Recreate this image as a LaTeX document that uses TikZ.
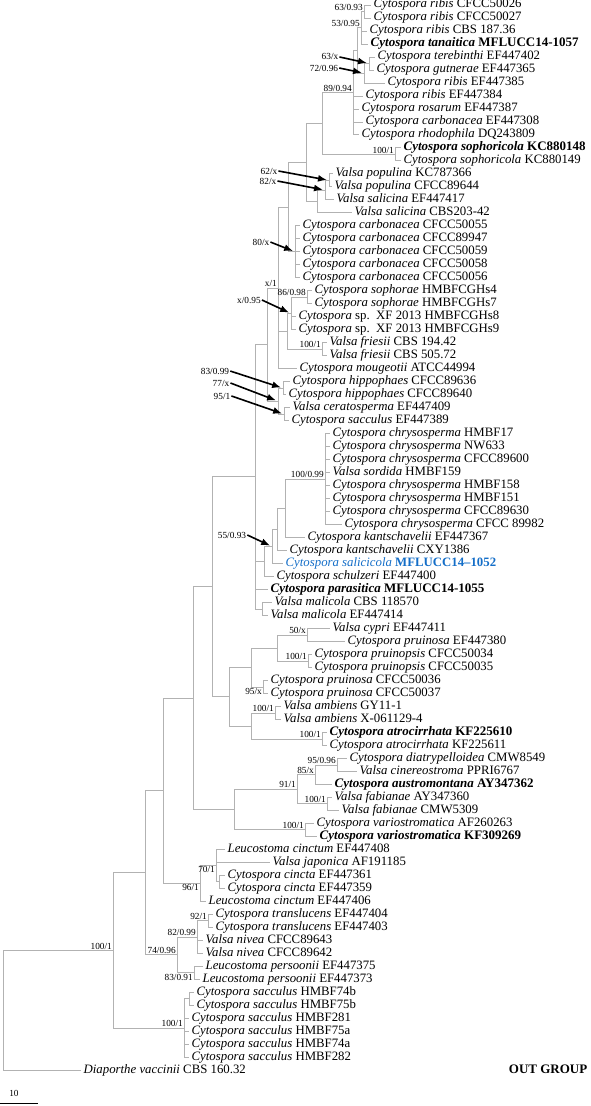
\documentclass[tikz,border=0pt]{standalone}
\usepackage{fontspec}
\setmainfont{Liberation Serif}
\usetikzlibrary{arrows.meta,positioning}
\definecolor{salblue}{RGB}{20,110,200}

\begin{document}
\begin{tikzpicture}[x=1pt, y=-12.99pt,
  taxon/.style={anchor=west, inner sep=2.5pt, font=\fontsize{12.8}{13}\selectfont,
                text height=8.4pt, text depth=2.6pt},
  newtaxon/.style={taxon, font=\fontsize{13}{13}\selectfont\bfseries},
  supp/.style={font=\fontsize{9.3}{10}\selectfont, inner sep=1pt},
  branch/.style={draw=black!30, line width=0.8pt},
  pointer/.style={-{Latex[length=9pt,width=7pt]}, line width=1.6pt, shorten >=2pt}]
  \useasboundingbox (0,0.615) rectangle (591,85.76);

  % taxa, one row each
  \node[taxon] (t1) at (371,1) {\textit{Cytospora ribis} CFCC50026};
  \node[taxon] (t2) at (371,2) {\textit{Cytospora ribis} CFCC50027};
  \node[taxon] (t3) at (367,3) {\textit{Cytospora ribis} CBS 187.36};
  \node[newtaxon] (t4) at (368,4) {\textit{Cytospora tanaitica} MFLUCC14-1057};
  \node[taxon] (t5) at (375,5) {\textit{Cytospora terebinthi} EF447402};
  \node[taxon] (t6) at (374,6) {\textit{Cytospora gutnerae} EF447365};
  \node[taxon] (t7) at (385,7) {\textit{Cytospora ribis} EF447385};
  \node[taxon] (t8) at (363,8) {\textit{Cytospora ribis} EF447384};
  \node[taxon] (t9) at (359,9) {\textit{Cytospora rosarum} EF447387};
  \node[taxon] (t10) at (363,10) {\textit{Cytospora carbonacea} EF447308};
  \node[taxon] (t11) at (359,11) {\textit{Cytospora rhodophila} DQ243809};
  \node[newtaxon] (t12) at (401,12) {\textit{Cytospora sophoricola} KC880148};
  \node[taxon] (t13) at (401,13) {\textit{Cytospora sophoricola} KC880149};
  \node[taxon] (t14) at (333,14) {\textit{Valsa populina} KC787366};
  \node[taxon] (t15) at (332,15) {\textit{Valsa populina} CFCC89644};
  \node[taxon] (t16) at (334,16) {\textit{Valsa salicina} EF447417};
  \node[taxon] (t17) at (352,17) {\textit{Valsa salicina} CBS203-42};
  \node[taxon] (t18) at (300,18) {\textit{Cytospora carbonacea} CFCC50055};
  \node[taxon] (t19) at (300,19) {\textit{Cytospora carbonacea} CFCC89947};
  \node[taxon] (t20) at (300,20) {\textit{Cytospora carbonacea} CFCC50059};
  \node[taxon] (t21) at (300,21) {\textit{Cytospora carbonacea} CFCC50058};
  \node[taxon] (t22) at (300,22) {\textit{Cytospora carbonacea} CFCC50056};
  \node[taxon] (t23) at (312,23) {\textit{Cytospora sophorae} HMBFCGHs4};
  \node[taxon] (t24) at (312,24) {\textit{Cytospora sophorae} HMBFCGHs7};
  \node[taxon] (t25) at (296,25) {\textit{Cytospora} sp.\ \ XF 2013 HMBFCGHs8};
  \node[taxon] (t26) at (296,26) {\textit{Cytospora} sp.\ \ XF 2013 HMBFCGHs9};
  \node[taxon] (t27) at (327,27) {\textit{Valsa friesii} CBS 194.42};
  \node[taxon] (t28) at (327,28) {\textit{Valsa friesii} CBS 505.72};
  \node[taxon] (t29) at (297,29) {\textit{Cytospora mougeotii} ATCC44994};
  \node[taxon] (t30) at (290,30) {\textit{Cytospora hippophaes} CFCC89636};
  \node[taxon] (t31) at (286,31) {\textit{Cytospora hippophaes} CFCC89640};
  \node[taxon] (t32) at (290,32) {\textit{Valsa ceratosperma} EF447409};
  \node[taxon] (t33) at (289,33) {\textit{Cytospora sacculus} EF447389};
  \node[taxon] (t34) at (330,34) {\textit{Cytospora chrysosperma} HMBF17};
  \node[taxon] (t35) at (330,35) {\textit{Cytospora chrysosperma} NW633};
  \node[taxon] (t36) at (330,36) {\textit{Cytospora chrysosperma} CFCC89600};
  \node[taxon] (t37) at (330,37) {\textit{Valsa sordida} HMBF159};
  \node[taxon] (t38) at (330,38) {\textit{Cytospora chrysosperma} HMBF158};
  \node[taxon] (t39) at (330,39) {\textit{Cytospora chrysosperma} HMBF151};
  \node[taxon] (t40) at (330,40) {\textit{Cytospora chrysosperma} CFCC89630};
  \node[taxon] (t41) at (342,41) {\textit{Cytospora chrysosperma} CFCC 89982};
  \node[taxon] (t42) at (305,42) {\textit{Cytospora kantschavelii} EF447367};
  \node[taxon] (t43) at (287,43) {\textit{Cytospora kantschavelii} CXY1386};
  \node[taxon, text=salblue] (t44) at (283,44) {\textit{Cytospora salicicola} \textbf{MFLUCC14--1052}};
  \node[taxon] (t45) at (274,45) {\textit{Cytospora schulzeri} EF447400};
  \node[newtaxon] (t46) at (268,46) {\textit{Cytospora parasitica} MFLUCC14-1055};
  \node[taxon] (t47) at (272,47) {\textit{Valsa malicola} CBS 118570};
  \node[taxon] (t48) at (268,48) {\textit{Valsa malicola} EF447414};
  \node[taxon] (t49) at (330,49) {\textit{Valsa cypri} EF447411};
  \node[taxon] (t50) at (345,50) {\textit{Cytospora pruinosa} EF447380};
  \node[taxon] (t51) at (312,51) {\textit{Cytospora pruinopsis} CFCC50034};
  \node[taxon] (t52) at (312,52) {\textit{Cytospora pruinopsis} CFCC50035};
  \node[taxon] (t53) at (268,53) {\textit{Cytospora pruinosa} CFCC50036};
  \node[taxon] (t54) at (268,54) {\textit{Cytospora pruinosa} CFCC50037};
  \node[taxon] (t55) at (281,55) {\textit{Valsa ambiens} GY11-1};
  \node[taxon] (t56) at (281,56) {\textit{Valsa ambiens} X-061129-4};
  \node[newtaxon] (t57) at (327,57) {\textit{Cytospora atrocirrhata} KF225610};
  \node[taxon] (t58) at (327,58) {\textit{Cytospora atrocirrhata} KF225611};
  \node[taxon] (t59) at (347,59) {\textit{Cytospora diatrypelloidea} CMW8549};
  \node[taxon] (t60) at (357,60) {\textit{Valsa cinereostroma} PPRI6767};
  \node[newtaxon] (t61) at (332,61) {\textit{Cytospora austromontana} AY347362};
  \node[taxon] (t62) at (332,62) {\textit{Valsa fabianae} AY347360};
  \node[taxon] (t63) at (339,63) {\textit{Valsa fabianae} CMW5309};
  \node[taxon] (t64) at (314,64) {\textit{Cytospora variostromatica} AF260263};
  \node[newtaxon] (t65) at (317,65) {\textit{Cytospora variostromatica} KF309269};
  \node[taxon] (t66) at (225,66) {\textit{Leucostoma cinctum} EF447408};
  \node[taxon] (t67) at (270,67) {\textit{Valsa japonica} AF191185};
  \node[taxon] (t68) at (225,68) {\textit{Cytospora cincta} EF447361};
  \node[taxon] (t69) at (225,69) {\textit{Cytospora cincta} EF447359};
  \node[taxon] (t70) at (206,70) {\textit{Leucostoma cinctum} EF447406};
  \node[taxon] (t71) at (213,71) {\textit{Cytospora translucens} EF447404};
  \node[taxon] (t72) at (213,72) {\textit{Cytospora translucens} EF447403};
  \node[taxon] (t73) at (203,73) {\textit{Valsa nivea} CFCC89643};
  \node[taxon] (t74) at (203,74) {\textit{Valsa nivea} CFCC89642};
  \node[taxon] (t75) at (203,75) {\textit{Leucostoma persoonii} EF447375};
  \node[taxon] (t76) at (200,76) {\textit{Leucostoma persoonii} EF447373};
  \node[taxon] (t77) at (194,77) {\textit{Cytospora sacculus} HMBF74b};
  \node[taxon] (t78) at (194,78) {\textit{Cytospora sacculus} HMBF75b};
  \node[taxon] (t79) at (189,79) {\textit{Cytospora sacculus} HMBF281};
  \node[taxon] (t80) at (189,80) {\textit{Cytospora sacculus} HMBF75a};
  \node[taxon] (t81) at (189,81) {\textit{Cytospora sacculus} HMBF74a};
  \node[taxon] (t82) at (189,82) {\textit{Cytospora sacculus} HMBF282};
  \node[taxon] (t83) at (81,83) {\textit{Diaporthe vaccinii} CBS 160.32};
  \node[newtaxon, anchor=east] (outg) at (590,83) {OUT GROUP};

  % internal nodes
  \coordinate (n63) at (364,1.5);   \coordinate (n53) at (361,2.75);
  \coordinate (n56) at (369,5.5);   \coordinate (n72) at (364,6.25);
  \coordinate (nA) at (357,4.5);    \coordinate (n89) at (353,7.75);
  \coordinate (nsph) at (395,12.5); \coordinate (nB) at (322,10.125);
  \coordinate (npop) at (329,14.5); \coordinate (n82x) at (325,15.25);
  \coordinate (nC) at (317,16.125); \coordinate (nD) at (306,13.125);
  \coordinate (ncarb) at (295,20);  \coordinate (nE) at (288,16.5625);
  \coordinate (nsoph) at (307,23.5); \coordinate (nx95) at (291,24.75);
  \coordinate (nfri) at (322,27.5); \coordinate (nF) at (287,26.125);
  \coordinate (nx1) at (278,22.78);
  \coordinate (n83) at (283,30.5);  \coordinate (n95) at (284,32.5);
  \coordinate (n77) at (278,31.5);  \coordinate (nG) at (267,27.14);
  \coordinate (nchr) at (325,37.5); \coordinate (nH) at (285,39.75);
  \coordinate (nI) at (277,41.375); \coordinate (n55) at (272,42.6875);
  \coordinate (nJ) at (264,43.84);  \coordinate (nmal) at (262,47.5);
  \coordinate (nK) at (255,37.32);
  \coordinate (ncyp) at (307,49.5); \coordinate (npsis) at (308,51.5);
  \coordinate (nL) at (277,50.5);   \coordinate (n95x) at (263,53.5);
  \coordinate (nM) at (251,52);     \coordinate (namb) at (275,55.5);
  \coordinate (natr) at (322,57.5); \coordinate (nN) at (251,56.5);
  \coordinate (nO) at (229,54.25);  \coordinate (nP) at (212,45.79);
  \coordinate (ndia) at (337,59.5); \coordinate (n85) at (315,60.25);
  \coordinate (nfab) at (327,62.5); \coordinate (n91) at (297,61.375);
  \coordinate (nvar) at (305,64.5); \coordinate (nQ) at (234,62.94);
  \coordinate (nR) at (193,54.36);
  \coordinate (n70) at (219,68.5);  \coordinate (nlc) at (216,67.25);
  \coordinate (n96) at (200,68.625); \coordinate (nS) at (163,61.49);
  \coordinate (ntra) at (208,71.5); \coordinate (n82) at (197,72.75);
  \coordinate (nper) at (194,75.5); \coordinate (n74) at (177,74.125);
  \coordinate (nT) at (145,67.81);
  \coordinate (nhb) at (189,77.5);  \coordinate (nsac) at (184,79.75);
  \coordinate (nU) at (113,73.78);  \coordinate (root) at (3,78.39);

  % branches
  \draw[branch] (n63) |- (t1.west) (n63) |- (t2.west);
  \draw[branch] (n53) |- (n63) (n53) |- (t3.west) (n53) |- (t4.west);
  \draw[branch] (n56) |- (t5.west) (n56) |- (t6.west);
  \draw[branch] (n72) |- (n56) (n72) |- (t7.west);
  \draw[branch] (nA) |- (n53) (nA) |- (n72);
  \draw[branch] (n89) |- (nA) (n89) |- (t8.west) (n89) |- (t9.west) (n89) |- (t10.west) (n89) |- (t11.west);
  \draw[branch] (nsph) |- (t12.west) (nsph) |- (t13.west);
  \draw[branch] (nB) |- (n89) (nB) |- (nsph);
  \draw[branch] (npop) |- (t14.west) (npop) |- (t15.west);
  \draw[branch] (n82x) |- (npop) (n82x) |- (t16.west);
  \draw[branch] (nC) |- (n82x) (nC) |- (t17.west);
  \draw[branch] (nD) |- (nB) (nD) |- (nC);
  \draw[branch] (ncarb) |- (t18.west) (ncarb) |- (t22.west);
  \draw[branch] (ncarb |- t19.west) -- (t19.west) (ncarb |- t20.west) -- (t20.west) (ncarb |- t21.west) -- (t21.west);
  \draw[branch] (nE) |- (nD) (nE) |- (ncarb);
  \draw[branch] (nsoph) |- (t23.west) (nsoph) |- (t24.west);
  \draw[branch] (nx95) |- (nsoph) (nx95) |- (t25.west) (nx95) |- (t26.west);
  \draw[branch] (nfri) |- (t27.west) (nfri) |- (t28.west);
  \draw[branch] (nF) |- (nx95) (nF) |- (nfri);
  \draw[branch] (nx1) |- (nE) (nx1) |- (nF) (nx1) |- (t29.west);
  \draw[branch] (n83) |- (t30.west) (n83) |- (t31.west);
  \draw[branch] (n95) |- (t32.west) (n95) |- (t33.west);
  \draw[branch] (n77) |- (n83) (n77) |- (n95);
  \draw[branch] (nG) |- (nx1) (nG) |- (n77);
  \draw[branch] (nchr) |- (t34.west) (nchr) |- (t41.west);
  \draw[branch] (nchr |- t35.west) -- (t35.west) (nchr |- t36.west) -- (t36.west) (nchr |- t37.west) -- (t37.west)
                (nchr |- t38.west) -- (t38.west) (nchr |- t39.west) -- (t39.west) (nchr |- t40.west) -- (t40.west);
  \draw[branch] (nH) |- (nchr) (nH) |- (t42.west);
  \draw[branch] (nI) |- (nH) (nI) |- (t43.west);
  \draw[branch] (n55) |- (nI) (n55) |- (t44.west);
  \draw[branch] (nJ) |- (n55) (nJ) |- (t45.west);
  \draw[branch] (nmal) |- (t47.west) (nmal) |- (t48.west);
  \draw[branch] (nK) |- (nG) (nK) |- (nJ) (nK) |- (t46.west) (nK) |- (nmal);
  \draw[branch] (ncyp) |- (t49.west) (ncyp) |- (t50.west);
  \draw[branch] (npsis) |- (t51.west) (npsis) |- (t52.west);
  \draw[branch] (nL) |- (ncyp) (nL) |- (npsis);
  \draw[branch] (n95x) |- (t53.west) (n95x) |- (t54.west);
  \draw[branch] (nM) |- (nL) (nM) |- (n95x);
  \draw[branch] (namb) |- (t55.west) (namb) |- (t56.west);
  \draw[branch] (natr) |- (t57.west) (natr) |- (t58.west);
  \draw[branch] (nN) |- (namb) (nN) |- (natr);
  \draw[branch] (nO) |- (nM) (nO) |- (nN);
  \draw[branch] (nP) |- (nK) (nP) |- (nO);
  \draw[branch] (ndia) |- (t59.west) (ndia) |- (t60.west);
  \draw[branch] (n85) |- (ndia) (n85) |- (t61.west);
  \draw[branch] (nfab) |- (t62.west) (nfab) |- (t63.west);
  \draw[branch] (n91) |- (n85) (n91) |- (nfab);
  \draw[branch] (nvar) |- (t64.west) (nvar) |- (t65.west);
  \draw[branch] (nQ) |- (n91) (nQ) |- (nvar);
  \draw[branch] (nR) |- (nP) (nR) |- (nQ);
  \draw[branch] (n70) |- (t68.west) (n70) |- (t69.west);
  \draw[branch] (nlc) |- (t66.west) (nlc) |- (t67.west) (nlc) |- (n70);
  \draw[branch] (n96) |- (nlc) (n96) |- (t70.west);
  \draw[branch] (nS) |- (nR) (nS) |- (n96);
  \draw[branch] (ntra) |- (t71.west) (ntra) |- (t72.west);
  \draw[branch] (n82) |- (ntra) (n82) |- (t73.west) (n82) |- (t74.west);
  \draw[branch] (nper) |- (t75.west) (nper) |- (t76.west);
  \draw[branch] (n74) |- (n82) (n74) |- (nper);
  \draw[branch] (nT) |- (nS) (nT) |- (n74);
  \draw[branch] (nhb) |- (t77.west) (nhb) |- (t78.west);
  \draw[branch] (nsac) |- (nhb) (nsac) |- (t82.west);
  \draw[branch] (nsac |- t79.west) -- (t79.west) (nsac |- t80.west) -- (t80.west) (nsac |- t81.west) -- (t81.west);
  \draw[branch] (nU) |- (nT) (nU) |- (nsac);
  \draw[branch] (root) |- (nU) (root) |- (t83.west);

  % support values
  \node[supp, above left=0pt of n63] (s63) {63/0.93};
  \node[supp, above left=0pt of n53] (s53) {53/0.95};
  \node[supp, above left=0pt of n89] (s89) {89/0.94};
  \node[supp, above left=0pt of nsph] (ssph) {100/1};
  \node[supp, above left=0pt of nsoph] (ssoph) {86/0.98};
  \node[supp, above left=0pt of nfri] (sfri) {100/1};
  \node[supp, above left=0pt of nx1] (sx1) {x/1};
  \node[supp, above left=0pt of nchr] (schr) {100/0.99};
  \node[supp, above left=0pt of ncyp] (scyp) {50/x};
  \node[supp, above left=0pt of npsis] (spsis) {100/1};
  \node[supp, below left=0pt of n95x] (s95x) {95/x};
  \node[supp, above left=0pt of namb] (samb) {100/1};
  \node[supp, above left=0pt of natr] (satr) {100/1};
  \node[supp, above left=0pt of ndia] (sdia) {95/0.96};
  \node[supp, above left=0pt of n85] (s85) {85/x};
  \node[supp, above left=0pt of n91] (s91) {91/1};
  \node[supp, above left=0pt of nfab] (sfab) {100/1};
  \node[supp, above left=0pt of nvar] (svar) {100/1};
  \node[supp, below left=0pt of nlc] (slc) {70/1};
  \node[supp, below left=0pt of n96] (s96) {96/1};
  \node[supp, above left=0pt of ntra] (stra) {92/1};
  \node[supp, above left=0pt of n82] (s82) {82/0.99};
  \node[supp, above left=0pt of n74] (s74) {74/0.96};
  \node[supp, below left=0pt of nper] (sper) {83/0.91};
  \node[supp, above left=0pt of nsac] (ssac) {100/1};
  \node[supp, above left=0pt of nU] (sU) {100/1};

  % arrowed support values
  \node[supp] (a63) at (330,5.0) {63/x};
  \node[supp] (a72) at (324,5.85) {72/0.96};
  \node[supp] (a62) at (269,13.78) {62/x};
  \node[supp] (a82) at (268,14.55) {82/x};
  \node[supp] (a80) at (261,19.25) {80/x};
  \node[supp] (ax95) at (249,23.71) {x/0.95};
  \node[supp] (a83) at (215,29.18) {83/0.99};
  \node[supp] (a77) at (221,30.1) {77/x};
  \node[supp] (a95) at (222,31.1) {95/1};
  \node[supp] (a55) at (232,41.8) {55/0.93};
  \draw[pointer] (a63.east) -- (n56);
  \draw[pointer] (a72.east) -- (n72);
  \draw[pointer] (a62.east) -- (npop);
  \draw[pointer] (a82.east) -- (n82x);
  \draw[pointer] (a80.east) -- (ncarb);
  \draw[pointer] (ax95.east) -- (nx95);
  \draw[pointer] (a83.east) -- (n83);
  \draw[pointer] (a77.east) -- (n77);
  \draw[pointer] (a95.east) -- (n95);
  \draw[pointer] (a55.east) -- (n55);

  % scale bar
  \node[supp] (sb) at (14,84.76) {10};
  \draw[line width=0.9pt] (0,85.6) -- (38,85.6);
\end{tikzpicture}
\end{document}
